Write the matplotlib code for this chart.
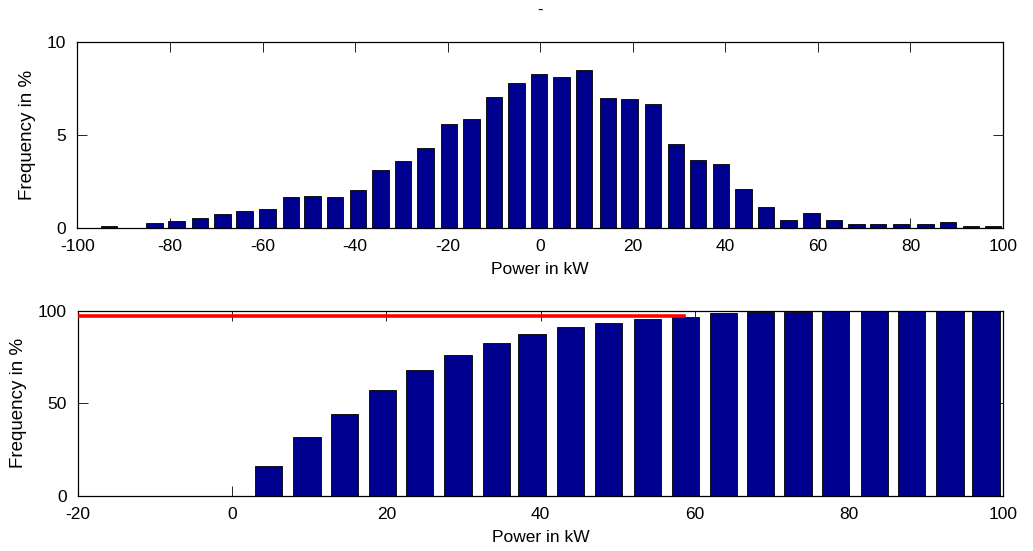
import matplotlib
matplotlib.use("Agg")
import matplotlib.pyplot as plt

# histogram of power values (bin centres in kW, frequency in %)
hist_centres = [-93.2, -88.3, -83.4, -78.6, -73.5, -68.7, -63.9, -58.9, -53.9, -49.2,
                -44.3, -39.4, -34.5, -29.7, -24.8, -19.7, -14.9, -10.0, -5.1, -0.3,
                4.6, 9.5, 14.6, 19.3, 24.3, 29.3, 34.1, 39.0, 43.9, 48.8,
                53.6, 58.6, 63.5, 68.3, 73.0, 78.0, 83.2, 88.1, 93.1, 97.8]
hist_freq = [0.10, 0.0, 0.27, 0.36, 0.50, 0.75, 0.91, 0.99, 1.63, 1.70,
             1.63, 2.04, 3.08, 3.57, 4.30, 5.59, 5.84, 7.04, 7.76, 8.24,
             8.08, 8.49, 6.95, 6.90, 6.63, 4.48, 3.66, 3.42, 2.06, 1.09,
             0.41, 0.77, 0.43, 0.20, 0.20, 0.20, 0.20, 0.29, 0.11, 0.11]

# cumulative frequency for positive power
cum_centres = [4.7, 9.7, 14.6, 19.5, 24.3, 29.3, 34.3, 38.9, 43.9, 48.8,
               53.9, 58.8, 63.7, 68.5, 73.4, 78.3, 83.3, 88.1, 93.1, 97.8]
cum_freq = [16.3, 31.9, 44.0, 57.2, 67.8, 75.9, 82.4, 87.3, 91.3, 93.7,
            95.5, 96.9, 98.7, 99.3, 99.3, 100, 100, 100, 100, 100]

# red limit line
limit_x = [-20, 58.6]
limit_y = [97.1, 97.1]

bar_color = '#00008F'

plt.rcParams['font.family'] = ['Liberation Sans', 'DejaVu Sans']
plt.rcParams['font.size'] = 12.5
plt.rcParams['axes.unicode_minus'] = False

fig = plt.figure(figsize=(10.33, 5.51), dpi=100)
ax1 = fig.add_axes([0.075, 0.5868, 0.896, 0.3375])
ax2 = fig.add_axes([0.0755, 0.1004, 0.8955, 0.3352])


def style_axes(ax):
	ax.tick_params(direction='in', length=7, width=0.6, top=True, right=True,
	               labelsize=12.5, pad=8)
	for s in ax.spines.values():
		s.set_linewidth(0.9)
	ax.set_xlabel("Power in kW", labelpad=6)
	ax.set_ylabel("Frequency in %", labelpad=8, fontsize=13.5)


ax1.bar(hist_centres, hist_freq, width=3.55, color=bar_color,
        edgecolor='black', linewidth=0.6, zorder=3)
ax1.set_xlim(-100, 100)
ax1.set_ylim(0, 10)
ax1.set_xticks([-100, -80, -60, -40, -20, 0, 20, 40, 60, 80, 100])
ax1.set_yticks([0, 5, 10])
ax1.set_title("-", pad=19, fontsize=12)
style_axes(ax1)

ax2.bar(cum_centres, cum_freq, width=3.55, color=bar_color,
        edgecolor='black', linewidth=0.6, zorder=3)
ax2.plot(limit_x, limit_y, color='red', linewidth=2.6, zorder=4)
ax2.set_xlim(-20, 100)
ax2.set_ylim(0, 100)
ax2.set_xticks([-20, 0, 20, 40, 60, 80, 100])
ax2.set_yticks([0, 50, 100])
style_axes(ax2)

fig.savefig("out.png", dpi=100)
